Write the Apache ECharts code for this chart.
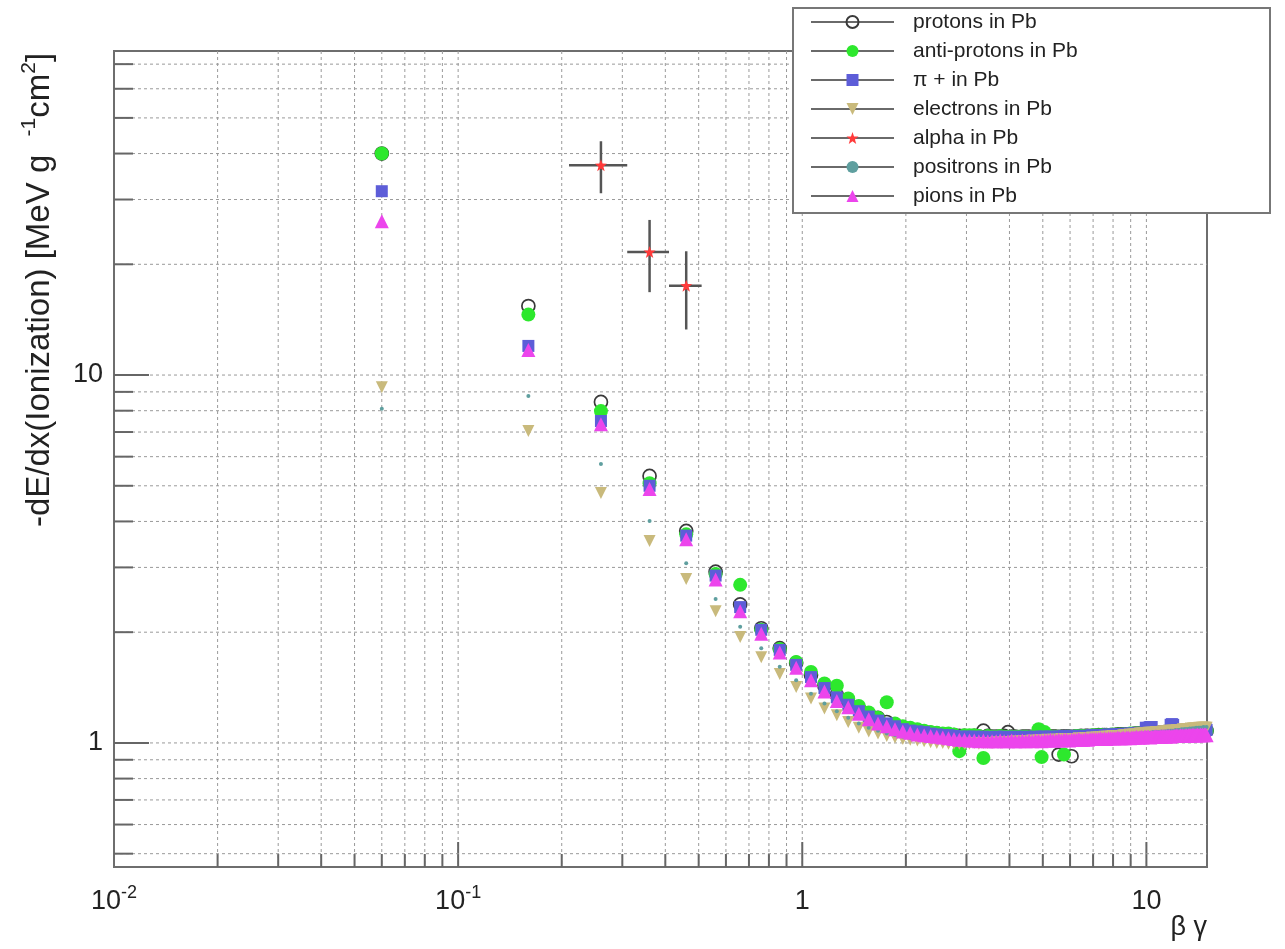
<!DOCTYPE html>
<html>
<head>
<meta charset="utf-8">
<title>-dE/dx (Ionization) in Pb</title>
<script src="https://cdn.jsdelivr.net/npm/echarts@6/dist/echarts.min.js"></script>
<style>
  html, body { margin: 0; padding: 0; background: #ffffff; }
  #chart { width: 1285px; height: 949px; }
</style>
</head>
<body>
<div id="chart"></div>
<script>
// beta*gamma sampling points shared by the particle curves
const betaGamma = [
  0.06, 0.16, 0.26, 0.36, 0.46, 0.56, 0.66, 0.76, 0.86, 0.96,
  1.06, 1.16, 1.26, 1.36, 1.46, 1.56, 1.66, 1.76, 1.86, 1.96,
  2.06, 2.16, 2.26, 2.36, 2.46, 2.56, 2.66, 2.76, 2.86, 2.96,
  3.06, 3.16, 3.26, 3.36, 3.46, 3.56, 3.66, 3.76, 3.86, 3.96,
  4.06, 4.16, 4.26, 4.36, 4.46, 4.56, 4.66, 4.76, 4.86, 4.96,
  5.06, 5.16, 5.26, 5.36, 5.46, 5.56, 5.66, 5.76, 5.86, 5.96,
  6.06, 6.16, 6.26, 6.36, 6.46, 6.56, 6.66, 6.76, 6.86, 6.96,
  7.06, 7.16, 7.26, 7.36, 7.46, 7.56, 7.66, 7.76, 7.86, 7.96,
  8.06, 8.16, 8.26, 8.36, 8.46, 8.56, 8.66, 8.76, 8.86, 8.96,
  9.06, 9.16, 9.26, 9.36, 9.46, 9.56, 9.66, 9.76, 9.86, 9.96,
  10.06, 10.16, 10.26, 10.36, 10.46, 10.56, 10.66, 10.76, 10.86, 10.96,
  11.06, 11.16, 11.26, 11.36, 11.46, 11.56, 11.66, 11.76, 11.86, 11.96,
  12.06, 12.16, 12.26, 12.36, 12.46, 12.56, 12.66, 12.76, 12.86, 12.96,
  13.06, 13.16, 13.26, 13.36, 13.46, 13.56, 13.66, 13.76, 13.86, 13.96,
  14.06, 14.16, 14.26, 14.36, 14.46, 14.56, 14.66, 14.76, 14.86, 14.96
];

// -dE/dx [MeV g^-1 cm^2]
const protons = [
  40.0, 15.4, 8.45, 5.32, 3.77, 2.92, 2.38, 2.05, 1.81, 1.65,
  1.53, 1.43, 1.35, 1.29, 1.24, 1.20, 1.17, 1.14, 1.12, 1.10,
  1.09, 1.08, 1.07, 1.065, 1.06, 1.055, 1.05, 1.05, 1.045, 1.045,
  1.04, 1.045, 1.04, 1.08, 1.045, 1.04, 1.04, 1.04, 1.045, 1.07,
  1.04, 1.04, 1.035, 1.04, 1.04, 1.04, 1.035, 1.04, 1.04, 1.04,
  1.04, 1.035, 1.04, 1.04, 1.04, 0.93, 1.04, 1.04, 1.04, 1.04,
  0.92, 1.04, 1.04, 1.04, 1.045, 1.04, 1.045, 1.045, 1.04, 1.045,
  1.045, 1.045, 1.05, 1.045, 1.05, 1.05, 1.05, 1.045, 1.05, 1.05,
  1.05, 1.05, 1.055, 1.05, 1.055, 1.05, 1.055, 1.055, 1.05, 1.055,
  1.055, 1.055, 1.06, 1.055, 1.06, 1.055, 1.06, 1.06, 1.06, 1.06,
  1.06, 1.065, 1.06, 1.065, 1.06, 1.065, 1.065, 1.06, 1.065, 1.065,
  1.065, 1.065, 1.07, 1.065, 1.07, 1.065, 1.07, 1.07, 1.065, 1.07,
  1.07, 1.07, 1.07, 1.075, 1.07, 1.07, 1.075, 1.07, 1.075, 1.075,
  1.075, 1.07, 1.075, 1.075, 1.075, 1.08, 1.075, 1.075, 1.08, 1.075,
  1.08, 1.075, 1.08, 1.08, 1.08, 1.08, 1.08, 1.085, 1.08, 1.08
];

const antiProtons = [
  40.0, 14.6, 7.98, 5.08, 3.69, 2.88, 2.69, 2.03, 1.80, 1.66,
  1.56, 1.45, 1.43, 1.32, 1.26, 1.21, 1.17, 1.29, 1.13, 1.11,
  1.10, 1.09, 1.08, 1.07, 1.065, 1.06, 1.06, 1.055, 0.95, 1.05,
  1.05, 1.05, 1.045, 0.91, 1.045, 1.04, 1.04, 1.045, 1.04, 1.04,
  1.04, 1.04, 1.04, 1.04, 1.04, 1.035, 1.04, 1.04, 1.09, 0.915,
  1.07, 1.04, 1.04, 1.04, 1.04, 1.04, 1.04, 0.93, 1.04, 1.04,
  1.04, 1.04, 1.045, 1.04, 1.045, 1.045, 1.04, 1.045, 1.045, 1.05,
  1.045, 1.05, 1.045, 1.05, 1.05, 1.045, 1.05, 1.05, 1.05, 1.055,
  1.05, 1.055, 1.05, 1.055, 1.05, 1.055, 1.055, 1.05, 1.055, 1.06,
  1.055, 1.06, 1.055, 1.06, 1.055, 1.06, 1.06, 1.055, 1.06, 1.06,
  1.06, 1.06, 1.065, 1.06, 1.065, 1.06, 1.065, 1.065, 1.06, 1.065,
  1.065, 1.065, 1.065, 1.07, 1.065, 1.07, 1.065, 1.07, 1.07, 1.065,
  1.07, 1.07, 1.07, 1.07, 1.075, 1.07, 1.07, 1.075, 1.07, 1.075,
  1.075, 1.075, 1.07, 1.075, 1.075, 1.075, 1.08, 1.075, 1.075, 1.08,
  1.075, 1.08, 1.08, 1.075, 1.08, 1.08, 1.08, 1.08, 1.085, 1.08
];

const piPlus = [
  31.6, 12.0, 7.5, 5.0, 3.66, 2.85, 2.34, 2.03, 1.79, 1.63,
  1.51, 1.41, 1.33, 1.27, 1.22, 1.18, 1.15, 1.13, 1.11, 1.09,
  1.08, 1.075, 1.07, 1.06, 1.055, 1.05, 1.05, 1.045, 1.04, 1.04,
  1.04, 1.04, 1.035, 1.04, 1.035, 1.035, 1.04, 1.035, 1.04, 1.035,
  1.035, 1.04, 1.035, 1.035, 1.04, 1.035, 1.035, 1.04, 1.035, 1.04,
  1.04, 1.035, 1.04, 1.04, 1.035, 1.04, 1.04, 1.045, 1.04, 1.04,
  1.045, 1.04, 1.045, 1.04, 1.045, 1.045, 1.04, 1.045, 1.045, 1.05,
  1.045, 1.05, 1.05, 1.045, 1.05, 1.05, 1.05, 1.055, 1.05, 1.05,
  1.055, 1.05, 1.055, 1.055, 1.05, 1.055, 1.055, 1.06, 1.055, 1.06,
  1.06, 1.055, 1.06, 1.06, 1.065, 1.06, 1.06, 1.065, 1.06, 1.10,
  1.065, 1.10, 1.105, 1.105, 1.065, 1.07, 1.065, 1.07, 1.07, 1.065,
  1.07, 1.07, 1.075, 1.07, 1.075, 1.07, 1.075, 1.12, 1.125, 1.12,
  1.075, 1.075, 1.08, 1.075, 1.075, 1.08, 1.075, 1.08, 1.08, 1.08,
  1.08, 1.08, 1.08, 1.085, 1.08, 1.08, 1.085, 1.08, 1.085, 1.085,
  1.085, 1.08, 1.085, 1.085, 1.085, 1.09, 1.085, 1.085, 1.09, 1.085
];

const electrons = [
  9.27, 7.05, 4.78, 3.54, 2.79, 2.28, 1.94, 1.71, 1.54, 1.42,
  1.32, 1.24, 1.19, 1.14, 1.10, 1.075, 1.06, 1.045, 1.035, 1.025,
  1.02, 1.015, 1.01, 1.005, 1.0, 1.0, 0.995, 0.995, 0.995, 0.995,
  0.995, 1.0, 0.995, 1.0, 1.0, 1.0, 1.005, 1.0, 1.005, 1.005,
  1.005, 1.01, 1.005, 1.01, 1.01, 1.01, 1.015, 1.01, 1.015, 1.015,
  1.015, 1.02, 1.015, 1.02, 1.02, 1.02, 1.025, 1.02, 1.025, 1.025,
  1.025, 1.025, 1.025, 1.03, 1.025, 1.03, 1.03, 1.03, 1.03, 1.035,
  1.03, 1.035, 1.035, 1.035, 1.035, 1.04, 1.04, 1.04, 1.04, 1.045,
  1.04, 1.045, 1.045, 1.045, 1.045, 1.05, 1.05, 1.05, 1.05, 1.055,
  1.05, 1.055, 1.055, 1.055, 1.055, 1.06, 1.06, 1.06, 1.06, 1.06,
  1.06, 1.065, 1.065, 1.065, 1.065, 1.065, 1.07, 1.07, 1.07, 1.07,
  1.07, 1.075, 1.075, 1.075, 1.075, 1.075, 1.08, 1.08, 1.08, 1.08,
  1.08, 1.08, 1.085, 1.085, 1.085, 1.085, 1.085, 1.09, 1.085, 1.09,
  1.09, 1.09, 1.09, 1.09, 1.095, 1.09, 1.095, 1.095, 1.095, 1.095,
  1.095, 1.095, 1.1, 1.095, 1.1, 1.1, 1.1, 1.1, 1.1, 1.1
];

const positrons = [
  8.1, 8.77, 5.73, 4.01, 3.08, 2.46, 2.07, 1.81, 1.61, 1.48,
  1.36, 1.28, 1.22, 1.17, 1.13, 1.10, 1.08, 1.06, 1.05, 1.04,
  1.03, 1.025, 1.02, 1.015, 1.01, 1.01, 1.005, 1.005, 1.0, 1.0,
  1.0, 1.0, 1.005, 1.0, 1.005, 1.005, 1.0, 1.005, 1.005, 1.01,
  1.005, 1.01, 1.01, 1.005, 1.01, 1.01, 1.015, 1.01, 1.015, 1.015,
  1.015, 1.015, 1.02, 1.015, 1.02, 1.02, 1.02, 1.025, 1.02, 1.025,
  1.025, 1.025, 1.025, 1.03, 1.025, 1.03, 1.03, 1.03, 1.035, 1.03,
  1.035, 1.035, 1.035, 1.04, 1.035, 1.04, 1.04, 1.04, 1.045, 1.04,
  1.045, 1.045, 1.045, 1.05, 1.045, 1.05, 1.05, 1.05, 1.055, 1.05,
  1.055, 1.055, 1.055, 1.06, 1.055, 1.06, 1.06, 1.06, 1.06, 1.065,
  1.06, 1.065, 1.065, 1.065, 1.07, 1.065, 1.07, 1.07, 1.07, 1.07,
  1.075, 1.07, 1.075, 1.075, 1.075, 1.08, 1.075, 1.08, 1.08, 1.08,
  1.08, 1.085, 1.08, 1.085, 1.085, 1.085, 1.09, 1.085, 1.09, 1.09,
  1.09, 1.09, 1.09, 1.095, 1.09, 1.095, 1.095, 1.095, 1.095, 1.1,
  1.095, 1.1, 1.1, 1.1, 1.1, 1.1, 1.105, 1.1, 1.1, 1.105
];

const pions = [
  26.2, 11.7, 7.35, 4.9, 3.58, 2.78, 2.28, 1.98, 1.76, 1.60,
  1.48, 1.38, 1.30, 1.25, 1.20, 1.16, 1.13, 1.11, 1.09, 1.075,
  1.065, 1.055, 1.05, 1.045, 1.04, 1.035, 1.03, 1.025, 1.02, 1.02,
  1.015, 1.015, 1.01, 1.015, 1.01, 1.01, 1.01, 1.015, 1.01, 1.01,
  1.015, 1.01, 1.01, 1.015, 1.01, 1.015, 1.01, 1.015, 1.015, 1.01,
  1.015, 1.015, 1.02, 1.015, 1.015, 1.02, 1.015, 1.02, 1.02, 1.015,
  1.02, 1.02, 1.02, 1.025, 1.02, 1.02, 1.025, 1.02, 1.025, 1.025,
  1.025, 1.025, 1.025, 1.03, 1.025, 1.03, 1.025, 1.03, 1.03, 1.03,
  1.03, 1.03, 1.035, 1.03, 1.03, 1.035, 1.03, 1.035, 1.035, 1.03,
  1.035, 1.035, 1.035, 1.04, 1.035, 1.035, 1.04, 1.035, 1.04, 1.04,
  1.04, 1.04, 1.035, 1.04, 1.04, 1.04, 1.045, 1.04, 1.04, 1.045,
  1.04, 1.045, 1.045, 1.04, 1.045, 1.045, 1.045, 1.04, 1.045, 1.045,
  1.045, 1.045, 1.05, 1.045, 1.045, 1.05, 1.045, 1.05, 1.045, 1.05,
  1.05, 1.045, 1.05, 1.05, 1.05, 1.05, 1.055, 1.05, 1.05, 1.05,
  1.055, 1.05, 1.05, 1.055, 1.05, 1.055, 1.05, 1.055, 1.055, 1.05
];

// alpha points with their uncertainties
const alphaX = [0.26, 0.36, 0.46];
const alphaY = [37.2, 21.6, 17.5];
const alphaErrX = [0.05, 0.05, 0.05];
const alphaErrY = [6.0, 4.8, 4.2];

// axis ranges, grid positions and tick labels
const X_MIN = 0.01, X_MAX = 15;
const Y_MIN = 0.46, Y_MAX = 76;
const xGridValues = [0.02, 0.03, 0.04, 0.05, 0.06, 0.07, 0.08, 0.09, 0.1,
  0.2, 0.3, 0.4, 0.5, 0.6, 0.7, 0.8, 0.9, 1,
  2, 3, 4, 5, 6, 7, 8, 9, 10];
const yGridValues = [0.5, 0.6, 0.7, 0.8, 0.9, 1,
  2, 3, 4, 5, 6, 7, 8, 9, 10,
  20, 30, 40, 50, 60, 70];
const xDecades = [0.01, 0.1, 1, 10];
const xDecadeLabels = ['10{sup|-2}', '10{sup|-1}', '1', '10'];
const yDecades = [1, 10];
const yDecadeLabels = ['1', '10'];

const FONT = '"Liberation Sans", Arial, Helvetica, sans-serif';
const GRID_COLOR = '#9a9a9a';
const TICK_COLOR = '#666666';

function decadeLabel(values, labels) {
  return function (v) {
    for (let i = 0; i < values.length; i++) {
      if (Math.abs(v - values[i]) < values[i] * 1e-6) return labels[i];
    }
    return '';
  };
}
function isDecade(v, list) {
  return list.some(d => Math.abs(v - d) < d * 1e-6) ? 1 : 0;
}

const pair = ys => betaGamma.map((x, i) => [x, ys[i]]);

const chart = echarts.init(document.getElementById('chart'), null, { renderer: 'canvas' });

const markerSeries = (name, ys, symbol, size, itemStyle, extra) => Object.assign({
  name: name,
  type: 'line',
  data: pair(ys),
  symbol: symbol,
  symbolSize: size,
  showSymbol: true,
  lineStyle: { width: 0, opacity: 0 },
  itemStyle: itemStyle,
  emphasis: { disabled: true },
  z: 2
}, extra || {});

const option = {
  animation: false,
  backgroundColor: '#ffffff',
  textStyle: { fontFamily: FONT },
  grid: {
    left: 114, right: 78, top: 51, bottom: 82,
    show: true, borderColor: '#6e6e6e', borderWidth: 2,
    backgroundColor: 'transparent',
    containLabel: false
  },
  xAxis: {
    type: 'log',
    logBase: 10,
    min: X_MIN,
    max: X_MAX,
    name: 'β γ',
    nameLocation: 'end',
    nameGap: 0,
    nameMoveOverlap: false,
    nameTextStyle: {
      fontFamily: FONT, fontSize: 27, color: '#222',
      align: 'right', verticalAlign: 'top', padding: [47, 0, 0, 0]
    },
    axisLine: { show: false },
    axisTick: { show: false },
    splitLine: { show: false },
    axisLabel: {
      fontFamily: FONT, fontSize: 27, color: '#222', lineHeight: 36, margin: 17,
      formatter: decadeLabel(xDecades, xDecadeLabels),
      rich: { sup: { fontFamily: FONT, fontSize: 18, lineHeight: 18, verticalAlign: 'top', color: '#222' } }
    }
  },
  yAxis: {
    type: 'log',
    logBase: 10,
    min: Y_MIN,
    max: Y_MAX,
    axisLine: { show: false },
    axisTick: { show: false },
    splitLine: { show: false },
    axisLabel: {
      fontFamily: FONT, fontSize: 27, color: '#222', margin: 11,
      formatter: decadeLabel(yDecades, yDecadeLabels)
    }
  },
  legend: {
    orient: 'vertical',
    left: 810,
    top: 11,
    padding: 0,
    itemWidth: 83,
    itemHeight: 15,
    itemGap: 7,
    z: 20,
    selectedMode: false,
    data: ['protons in Pb', 'anti-protons in Pb', 'π + in Pb', 'electrons in Pb',
      'alpha in Pb', 'positrons in Pb', 'pions in Pb'],
    lineStyle: { color: '#6a6a6a', width: 2, opacity: 1 },
    textStyle: { fontFamily: FONT, fontSize: 21, lineHeight: 22, color: '#222', padding: [0, 0, 0, 14] }
  },
  graphic: [
    {
      type: 'rect',
      z: 10,
      shape: { x: 793, y: 8, width: 477, height: 205 },
      style: { fill: '#ffffff', stroke: '#777777', lineWidth: 2 }
    },
    {
      type: 'text',
      z: 10,
      x: 40,
      y: 290,
      rotation: Math.PI / 2,
      style: {
        text: '{b|-dE/dx(Ionization) [MeV g  }{s|-1}{b|cm}{s|2}{b|]}',
        align: 'center',
        verticalAlign: 'middle',
        fill: '#222',
        rich: {
          b: { fontFamily: FONT, fontSize: 33, lineHeight: 42, fill: '#222' },
          s: { fontFamily: FONT, fontSize: 21, lineHeight: 24, verticalAlign: 'top', fill: '#222' }
        }
      }
    }
  ],
  series: [
    {
      name: 'x-grid',
      type: 'custom',
      silent: true,
      z: 1,
      data: xGridValues.map(v => [v, 1, isDecade(v, xDecades)]),
      renderItem: function (params, api) {
        const cs = params.coordSys;
        const px = api.coord([api.value(0), api.value(1)])[0];
        const bottom = cs.y + cs.height;
        const len = api.value(2) === 1 ? 25 : 13;
        return {
          type: 'group',
          children: [
            { type: 'line', shape: { x1: px, y1: cs.y, x2: px, y2: bottom },
              style: { stroke: GRID_COLOR, lineWidth: 1, lineDash: [3, 3] } },
            { type: 'line', shape: { x1: px, y1: bottom, x2: px, y2: bottom - len },
              style: { stroke: TICK_COLOR, lineWidth: 2 } }
          ]
        };
      }
    },
    {
      name: 'y-grid',
      type: 'custom',
      silent: true,
      z: 1,
      data: yGridValues.map(v => [1, v, isDecade(v, yDecades)]),
      renderItem: function (params, api) {
        const cs = params.coordSys;
        const py = api.coord([api.value(0), api.value(1)])[1];
        const len = api.value(2) === 1 ? 35 : 19;
        return {
          type: 'group',
          children: [
            { type: 'line', shape: { x1: cs.x, y1: py, x2: cs.x + cs.width, y2: py },
              style: { stroke: GRID_COLOR, lineWidth: 1, lineDash: [3, 3] } },
            { type: 'line', shape: { x1: cs.x, y1: py, x2: cs.x + len, y2: py },
              style: { stroke: TICK_COLOR, lineWidth: 2 } }
          ]
        };
      }
    },
    markerSeries('protons in Pb', protons, 'circle', 13,
      { color: 'rgba(255,255,255,0)', borderColor: '#3a3a3a', borderWidth: 1.7 }),
    markerSeries('anti-protons in Pb', antiProtons, 'circle', 14, { color: '#2de82d' }),
    markerSeries('π + in Pb', piPlus, 'rect', 12, { color: '#5d5dd8' }),
    markerSeries('electrons in Pb', electrons, 'triangle', 12, { color: '#c9ba7c' }, { symbolRotate: 180 }),
    {
      name: 'alpha-errors',
      type: 'custom',
      silent: true,
      z: 2,
      data: alphaX.map((x, i) => [x, alphaY[i], alphaErrX[i], alphaErrY[i]]),
      renderItem: function (params, api) {
        const x = api.value(0), y = api.value(1), ex = api.value(2), ey = api.value(3);
        const c = api.coord([x, y]);
        const l = api.coord([x - ex, y]);
        const r = api.coord([x + ex, y]);
        const t = api.coord([x, y + ey]);
        const b = api.coord([x, y - ey]);
        const st = { stroke: '#555555', lineWidth: 2.5 };
        return {
          type: 'group',
          children: [
            { type: 'line', shape: { x1: l[0], y1: c[1], x2: r[0], y2: c[1] }, style: st },
            { type: 'line', shape: { x1: c[0], y1: t[1], x2: c[0], y2: b[1] }, style: st }
          ]
        };
      }
    },
    {
      name: 'alpha in Pb',
      type: 'line',
      data: alphaX.map((x, i) => [x, alphaY[i]]),
      symbol: 'path://M0,-10 L2.4,-3.3 L9.5,-3.1 L3.9,1.3 L5.9,8.1 L0,4.1 L-5.9,8.1 L-3.9,1.3 L-9.5,-3.1 L-2.4,-3.3 Z',
      symbolSize: 12,
      showSymbol: true,
      lineStyle: { width: 0, opacity: 0 },
      itemStyle: { color: '#ff3a3a' },
      emphasis: { disabled: true },
      z: 2
    },
    markerSeries('positrons in Pb', positrons, 'circle', 4, { color: '#5f9f9f' }),
    markerSeries('pions in Pb', pions, 'triangle', 14, { color: '#ec45ec' })
  ]
};

chart.setOption(option);
</script>
</body>
</html>
